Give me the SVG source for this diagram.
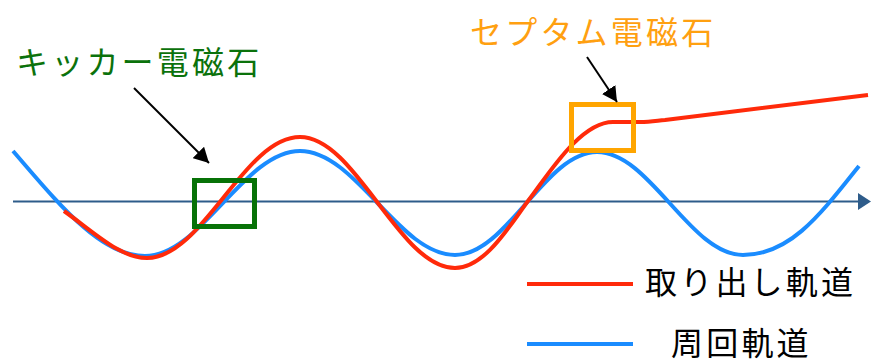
<svg xmlns="http://www.w3.org/2000/svg" width="871" height="364" viewBox="0 0 871 364">
  <defs>
    <style>
      .lbl { font-family: "Noto Sans CJK JP", "Noto Sans", sans-serif; font-size: 32px; letter-spacing: 3.2px; }
      .curve { fill: none; stroke-width: 4; stroke-linecap: butt; stroke-linejoin: round; }
      .red { stroke: #FF2A0A; }
      .blue { stroke: #1A8CFF; }
      .arrow { fill: none; stroke: #000; stroke-width: 2; }
      .box { fill: none; stroke-width: 5; }
    </style>
    <marker id="ah" markerWidth="16" markerHeight="16" refX="15" refY="8" orient="auto" markerUnits="userSpaceOnUse">
      <path d="M0,0 L15,8 L0,16 z" fill="#000"/>
    </marker>
  </defs>
  <rect width="871" height="364" fill="#fff"/>

  <g id="axis">
    <line x1="13" y1="201.5" x2="860" y2="201.5" stroke="#2E5C8A" stroke-width="2"/>
    <polygon points="858,193 871,201.5 858,210" fill="#2E5C8A"/>
  </g>

  <g id="circulating-orbit">
    <path class="curve blue" d="M13,151 C58,203 100,256 145,256 C201,256 244,151 300,151 C356,151 399,255 455,255 C507,255 545,152 597,152 C650,152 690,255 743,255 C790,255 820,215 859,166"/>
  </g>

  <g id="extraction-orbit">
    <path class="curve red" d="M64,211 C95,233 120,258 147,258 C203,258 244,137 300,137 C356,137 399,268 455,268 C485,268 510,225 528,201 C548,175 580,122 613,122 L640,122 C650,122 655,121 665,120 L868,95"/>
  </g>

  <g id="kicker">
    <rect class="box" x="194.5" y="180.5" width="60" height="46" stroke="#077207"/>
    <text class="lbl" x="16" y="74" fill="#0B720B">キッカー電磁石</text>
  </g>

  <g id="septum">
    <rect class="box" x="571.5" y="104.5" width="62" height="46" stroke="#FFA500"/>
    <text class="lbl" x="470" y="44" fill="#FFA010">セプタム電磁石</text>
  </g>

  <g id="connectors">
    <line class="arrow" x1="134" y1="88" x2="209" y2="163" marker-end="url(#ah)"/>
    <line class="arrow" x1="587" y1="57" x2="617" y2="102" marker-end="url(#ah)"/>
  </g>

  <g id="legend">
    <line x1="527" y1="284" x2="633" y2="284" stroke="#FF2A0A" stroke-width="4"/>
    <text class="lbl" x="645" y="294" fill="#000">取り出し軌道</text>
    <line x1="527" y1="344" x2="633" y2="344" stroke="#1A8CFF" stroke-width="4"/>
    <text class="lbl" x="671" y="355" fill="#000">周回軌道</text>
  </g>
</svg>
